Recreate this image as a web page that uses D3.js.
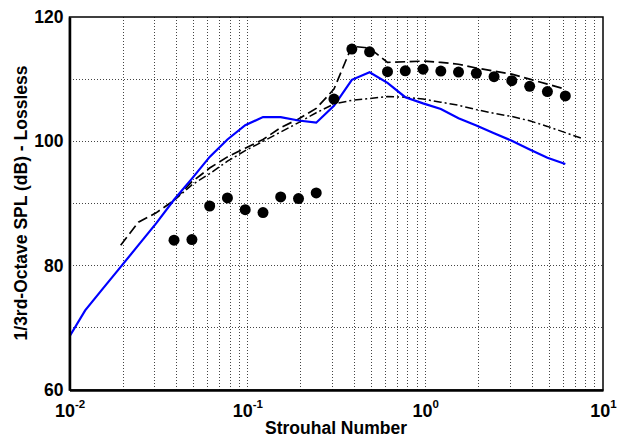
<!DOCTYPE html>
<html><head><meta charset="utf-8">
<script src="https://cdn.jsdelivr.net/npm/d3@7"></script>
<style>
body{margin:0;background:#fff;}
svg{display:block;font-family:"Liberation Sans",Arial,Helvetica,sans-serif;font-weight:bold;}
</style></head>
<body><svg id="chart" width="617" height="438"></svg>
<script>
// ---- data ----
const measuredSt  = [0.0387,0.0488,0.0614,0.0773,0.0973,0.1225,0.154,0.194,0.244,0.307,0.387,0.487,0.614,0.773,0.973,1.225,1.54,1.94,2.44,3.07,3.87,4.87,6.14];
const measuredSPL = [84.1,84.2,89.6,90.9,89.0,88.55,91.05,90.8,91.7,106.8,114.85,114.4,111.2,111.35,111.6,111.3,111.15,110.95,110.4,109.75,108.85,108.0,107.3];

const blueSt  = [0.01,0.01225,0.0154,0.0194,0.0244,0.0307,0.0387,0.0488,0.0614,0.0773,0.0973,0.1225,0.154,0.194,0.244,0.307,0.387,0.487,0.614,0.773,0.973,1.225,1.54,1.94,2.44,3.07,3.87,4.87,6.14];
const blueSPL = [68.6,72.8,76.3,79.8,83.3,86.8,90.6,94.0,97.5,100.3,102.6,103.9,103.9,103.35,103.0,105.7,109.9,111.1,109.4,107.1,106.1,105.2,103.7,102.55,101.3,100.1,98.7,97.35,96.35];

const dashedSt  = [0.0194,0.0244,0.0307,0.0387,0.0488,0.0614,0.0773,0.0973,0.1225,0.154,0.194,0.244,0.307,0.387,0.487,0.614,0.773,0.973,1.225,1.54,1.94,2.44,3.07,3.87,4.87,6.14];
const dashedSPL = [83.3,87.0,88.5,90.5,93.5,95.7,97.5,98.9,100.3,102.2,103.6,105.3,108.4,115.3,115.0,112.7,112.8,112.9,112.7,112.4,111.8,111.3,110.8,110.0,109.2,108.4];

const dashDotSt  = [0.0387,0.0488,0.0614,0.0773,0.0973,0.1225,0.154,0.194,0.244,0.307,0.387,0.487,0.614,0.773,0.973,1.225,1.54,1.94,2.44,3.07,3.87,4.87,6.14,7.73];
const dashDotSPL = [90.5,93.0,94.8,96.8,98.5,100.0,101.5,103.0,104.6,106.0,106.6,106.9,107.2,107.1,106.8,106.3,105.8,105.1,104.5,104.0,103.3,102.4,101.4,100.4];

const xTicks = [0.01,0.1,1,10];
const xTickExp = ["-2","-1","0","1"];
const yTicks = [60,80,100,120];
const yGrid = [70,80,90,100,110];
const xLabel = "Strouhal Number";
const yLabel = "1/3rd-Octave SPL (dB) - Lossless";

// ---- layout ----
const svg = d3.select("#chart");
const L = 69.5, R = 603, T = 17, B = 390;
const x = d3.scaleLog().domain([0.01,10]).range([L,R]);
const y = d3.scaleLinear().domain([60,120]).range([B,T]);

svg.append("defs").append("clipPath").attr("id","clip")
  .append("rect").attr("x",L).attr("y",T).attr("width",R-L).attr("height",B-T);

// grid
const xGrid = [];
[0.01,0.1,1].forEach(d=>{ for(let m=2;m<=9;m++) xGrid.push(d*m); });
[0.1,1].forEach(v=>xGrid.push(v));
const grid = svg.append("g");
grid.selectAll("line.xg").data(xGrid).join("line")
  .attr("x1",d=>x(d)).attr("x2",d=>x(d)).attr("y1",T).attr("y2",B)
  .attr("stroke","#444").attr("stroke-width",1).attr("stroke-dasharray","1,2")
  .attr("shape-rendering","crispEdges");
grid.selectAll("line.yg").data(yGrid).join("line")
  .attr("x1",L).attr("x2",R).attr("y1",d=>y(d)).attr("y2",d=>y(d))
  .attr("stroke","#444").attr("stroke-width",1).attr("stroke-dasharray","1,2")
  .attr("shape-rendering","crispEdges");

// frame
svg.append("rect").attr("x",L).attr("y",T).attr("width",R-L).attr("height",B-T)
  .attr("fill","none").attr("stroke","#000").attr("stroke-width",1.5);

// lines
const plot = svg.append("g").attr("clip-path","url(#clip)");
const line = d3.line().x(d=>x(d[0])).y(d=>y(d[1]));
const zip = (a,b)=>a.map((v,i)=>[v,b[i]]);

plot.append("path").datum(zip(dashDotSt,dashDotSPL)).attr("d",line)
  .attr("fill","none").attr("stroke","#000").attr("stroke-width",1.5)
  .attr("stroke-dasharray","8,3,2,3");
plot.append("path").datum(zip(dashedSt,dashedSPL)).attr("d",line)
  .attr("fill","none").attr("stroke","#000").attr("stroke-width",1.7)
  .attr("stroke-dasharray","10,4.5");
plot.append("path").datum(zip(blueSt,blueSPL)).attr("d",line)
  .attr("fill","none").attr("stroke","#0000ff").attr("stroke-width",2.2);

plot.selectAll("circle").data(zip(measuredSt,measuredSPL)).join("circle")
  .attr("cx",d=>x(d[0])).attr("cy",d=>y(d[1])).attr("r",5.5).attr("fill","#000");

// axes
const yAxis = svg.append("g").attr("transform",`translate(${L},0)`)
  .call(d3.axisLeft(y).tickValues(yTicks).tickSize(0).tickPadding(6).tickFormat(d3.format("d")));
yAxis.select(".domain").attr("stroke-width",2.5);
yAxis.selectAll("text").attr("font-size",17.5).attr("font-weight","bold")
  .attr("font-family","Liberation Sans, Arial, sans-serif").attr("fill","#000");

const xAxis = svg.append("g").attr("transform",`translate(0,${B})`)
  .call(d3.axisBottom(x).tickValues(xTicks).tickSize(0).tickFormat(()=>""));
xAxis.select(".domain").attr("stroke-width",2.5);
xAxis.selectAll(".tick text").each(function(d,i){
  const t = d3.select(this).text(null).attr("y",null).attr("dy",null)
    .attr("transform","translate(0,27)")
    .attr("font-size",18).attr("font-weight","bold").attr("fill","#000")
    .attr("font-family","Liberation Sans, Arial, sans-serif")
    .attr("text-anchor","middle");
  t.append("tspan").text("10");
  t.append("tspan").attr("font-size",11.5).attr("dy",-9).text(xTickExp[i]);
});

// titles
svg.append("text").attr("x",336).attr("y",434).attr("text-anchor","middle")
  .attr("font-size",17.5).attr("font-weight","bold").text(xLabel);
svg.append("text").attr("transform","translate(27,203) rotate(-90)")
  .attr("text-anchor","middle").attr("font-size",17.5).attr("font-weight","bold").text(yLabel);
</script></body></html>
